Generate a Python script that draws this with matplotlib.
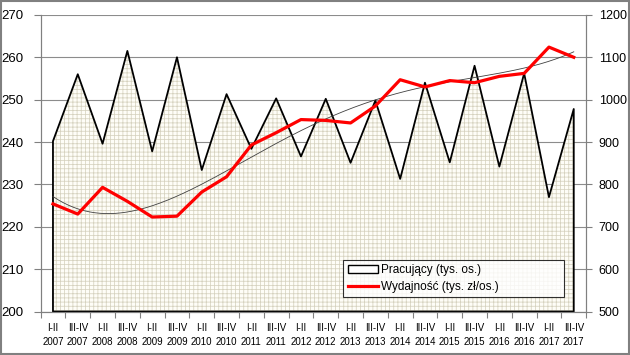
import numpy as np
import matplotlib
matplotlib.use("Agg")
import matplotlib.pyplot as plt
from matplotlib.patches import Patch, Rectangle
from matplotlib.lines import Line2D

plt.rcParams['font.family'] = ['Liberation Sans', 'DejaVu Sans']
plt.rcParams['hatch.linewidth'] = 0.55

# half-year periods
periods = ["I-II", "III-IV"]
years = [str(y) for y in range(2007, 2018)]
labels = [p + "\n" + y for y in years for p in periods]

# employed (thousands of persons) - left axis
pracujacy = [240.2, 256.0, 239.6, 261.5, 237.8, 260.0, 233.4, 251.3, 238.4, 250.3, 236.6,
             250.2, 235.1, 249.8, 231.3, 254.0, 235.2, 258.0, 234.2, 256.2, 227.0, 247.8]
# productivity (thousands zl per person) - right axis
wydajnosc = [754, 730, 793, 760, 723, 725, 782, 818, 893, 922, 953,
             951, 945, 985, 1047, 1030, 1045, 1040, 1055, 1062, 1124, 1100]

x = np.arange(len(labels))

fig = plt.figure(figsize=(6.3, 3.55), dpi=100)
ax = fig.add_axes([0.0644, 0.1225, 0.866, 0.8355])
ax2 = ax.twinx()

# area with grid pattern
ax.fill_between(x, 200, pracujacy, facecolor='#fefdf7', edgecolor='#d6d2bf',
                hatch='++++', linewidth=0, zorder=2)
ax.fill_between(x, 200, pracujacy, facecolor='none', edgecolor='black',
                linewidth=1.3, zorder=3)

# productivity + polynomial trend line
ax2.plot(x, wydajnosc, color='#ff0000', lw=2.3, zorder=4)
coef = np.polyfit(x, wydajnosc, 4)
xt = np.linspace(0, len(x) - 1, 200)
ax2.plot(xt, np.polyval(coef, xt), color='#404040', lw=0.6, zorder=3)

ax.set_xlim(-0.5, len(x) - 0.5)
ax.set_ylim(200, 270)
ax.set_yticks(range(200, 271, 10))
ax2.set_ylim(500, 1200)
ax2.set_yticks(range(500, 1201, 100))

ax.set_xticks(x)
ax.set_xticklabels(labels, fontsize=7, linespacing=1.55)
ax.set_xticks(np.arange(-0.5, len(x), 1), minor=True)
ax.tick_params(axis='x', which='major', length=0, pad=8)
ax.tick_params(axis='x', which='minor', length=4, color='#808080', width=0.8)
ax.tick_params(axis='y', length=5, color='#808080', labelsize=9.5, pad=7)
ax2.tick_params(axis='y', length=4, color='#808080', labelsize=9, pad=5)

ax.yaxis.grid(True, color='#8c8c8c', lw=0.8)
ax.set_axisbelow(True)

for a in (ax, ax2):
    for s in a.spines.values():
        s.set_color('#808080')
        s.set_linewidth(0.8)
    a.spines['top'].set_visible(False)

handles = [Patch(facecolor='white', edgecolor='black', linewidth=1.0),
           Line2D([0], [0], color='#ff0000', lw=2.3)]
leg = ax2.legend(handles, ["Pracujący (tys. os.)", "Wydajność (tys. zł/os.)"],
                 loc='lower left', bbox_to_anchor=(0.555, 0.048, 0.404, 0.14),
                 mode='expand', fontsize=8.5, frameon=True, fancybox=False,
                 borderaxespad=0, handlelength=2.6, handletextpad=0.2,
                 labelspacing=0.4, borderpad=0.35)
leg.get_frame().set_edgecolor('black')
leg.get_frame().set_linewidth(0.8)

fig.patches.append(Rectangle((0.001, 0.002), 0.997, 0.995, transform=fig.transFigure,
                             fill=False, edgecolor='#808080', lw=1.5))

fig.savefig("out.png", dpi=100)
